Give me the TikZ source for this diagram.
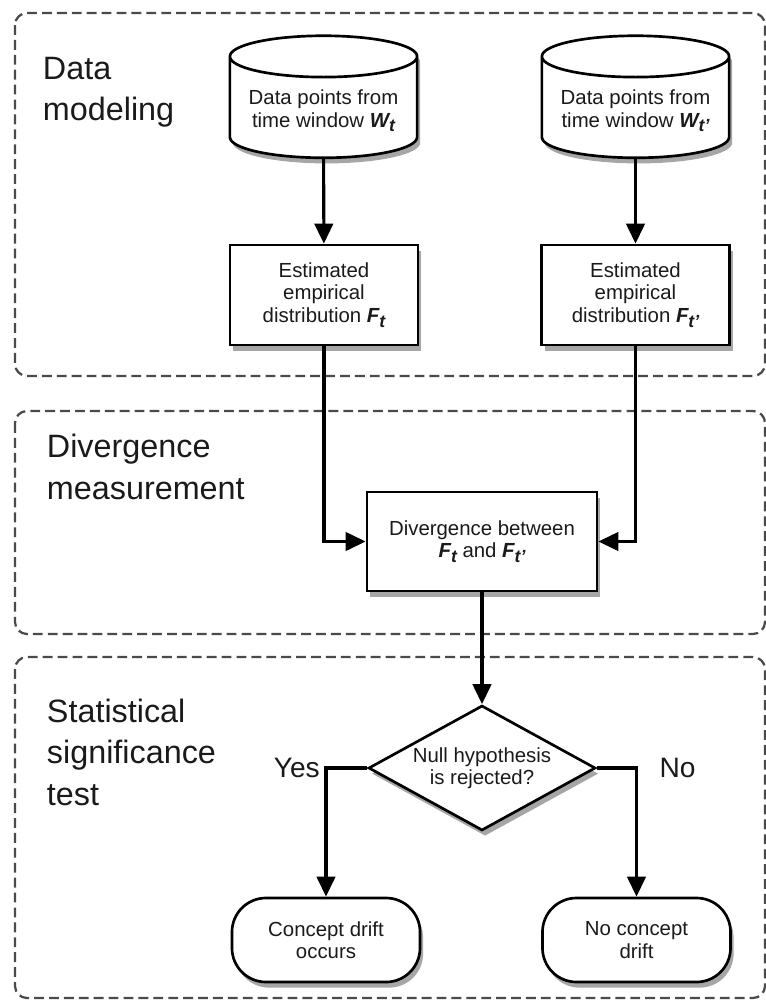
\documentclass[tikz,border=0pt]{standalone}
\usepackage{fontspec}
\setmainfont{Liberation Sans}
\usetikzlibrary{arrows.meta,shapes.geometric,shadows}
\definecolor{FrameGray}{HTML}{4A4A4A}
\definecolor{InkBlack}{HTML}{1A1A1A}
\newcommand{\symb}[2]{\textbf{\textit{#1\raisebox{-0.45ex}{\fontsize{12.5}{12.5}\selectfont #2}}}}

\begin{document}
\begin{tikzpicture}[x=0.025cm, y=-0.025cm,
  every node/.style={font=\fontsize{14.5}{16}\selectfont, text=InkBlack},
  phaseframe/.style={draw=FrameGray, line width=1.6pt, dash pattern=on 7pt off 3.6pt, rounded corners=0.3cm},
  phase/.style={anchor=west, align=left, font=\fontsize{23}{29.5}\selectfont},
  lift/.style={drop shadow={shadow xshift=2.2pt, shadow yshift=-4pt, opacity=0.35, fill=black}},
  store/.style={cylinder, shape border rotate=90, aspect=0.26, draw, line width=1.9pt, fill=white, lift, minimum width=4.68cm, minimum height=3.05cm, align=center},
  box/.style={draw, line width=1.9pt, fill=white, lift, minimum width=4.7cm, minimum height=2.5cm, align=center},
  decision/.style={diamond, draw, line width=1.9pt, fill=white, lift, aspect=1.8, inner sep=0pt, minimum width=5.675cm, minimum height=3.125cm, align=center},
  outcome/.style={draw, line width=1.9pt, fill=white, lift, rounded corners=0.85cm, minimum width=4.7cm, minimum height=2.1cm, align=center},
  arr/.style={-{Triangle[length=0.5cm, width=0.46cm]}, line width=2.2pt}
]
\useasboundingbox (0,0) rectangle (766,1001);
% dashed phase frames
\draw[phaseframe] (15,13) rectangle (765,376);
\draw[phaseframe] (15,411) rectangle (765,634);
\draw[phaseframe] (15,657) rectangle (765,998);
\node[phase] (p1) at (38,92) {Data\\modeling};
\node[phase] (p2) at (42,467) {Divergence\\measurement};
\node[phase] (p3) at (42,752) {Statistical\\significance\\test};

% data modeling
\node[store] (w1) at (323.5,111) {Data points from\\time window \symb{W}{t}};
\node[store] (w2) at (635.5,111) {Data points from\\time window \symb{W}{t’}};
\node[box] (f1) at (324,295) {Estimated\\empirical\\distribution \symb{F}{t}};
\node[box] (f2) at (635.5,295) {Estimated\\empirical\\distribution \symb{F}{t’}};

% divergence and test
\node[box, minimum width=5.75cm, minimum height=2.475cm] (div) at (482,541.5) {Divergence between\\\symb{F}{t} and \symb{F}{t’}};
\node[decision] (test) at (482,768) {Null hypothesis\\is rejected?};
\node[outcome] (drift) at (326,940) {Concept drift\\occurs};
\node[outcome] (nodrift) at (636.5,940) {No concept\\drift};

\draw[arr] (w1) -- (f1);
\draw[arr] (w2) -- (f2);
\draw[arr] (f1.south) |- (div.west);
\draw[arr] (f2.south) |- (div.east);
\draw[arr] (div) -- (test);
\draw[arr] (test.west) -| node[pos=0.5, left, font=\fontsize{20}{24}\selectfont] (yes) {Yes} (drift.north);
\draw[arr] (test.east) -| node[pos=0.5, right, font=\fontsize{20}{24}\selectfont, xshift=12pt] (no) {No} (nodrift.north);
\end{tikzpicture}
\end{document}
